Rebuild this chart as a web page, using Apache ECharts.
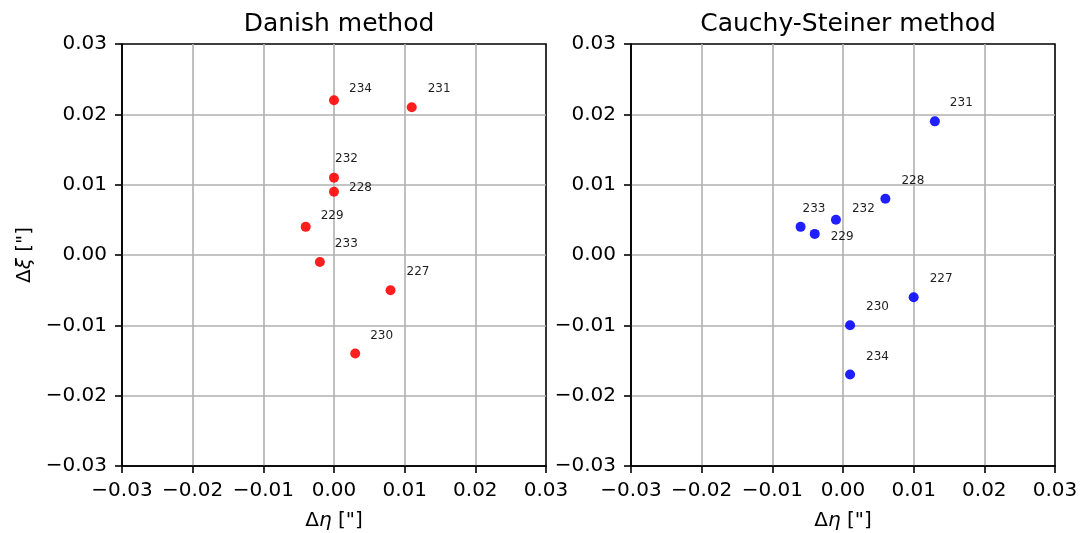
<!DOCTYPE html>
<html>
<head>
<meta charset="utf-8">
<script src="https://cdn.jsdelivr.net/npm/echarts@6/dist/echarts.min.js"></script>
<style>
html,body{margin:0;padding:0;background:#fff;}
#main{width:1081px;height:533px;}
</style>
</head>
<body>
<div id="main"></div>
<script>
// point ids and offsets (d eta, d xi) in arcsec
var danishIds=['234','231','232','228','229','233','227','230'];
var danishEta=[0.000,0.011,0.000,0.000,-0.004,-0.002,0.008,0.003];
var danishXi=[0.022,0.021,0.011,0.009,0.004,-0.001,-0.005,-0.014];

var cauchyIds=['231','228','232','233','229','227','230','234'];
var cauchyEta=[0.013,0.006,-0.001,-0.006,-0.004,0.010,0.001,0.001];
var cauchyXi=[0.019,0.008,0.005,0.004,0.003,-0.006,-0.010,-0.017];

var tickValues=[-0.03,-0.02,-0.01,0.00,0.01,0.02,0.03];

// label placement (pixels from the marker), like the annotate offsets
var danishLabelPos=[[15,-11],[16,-18],[1,-19],[15,-4],[15,-11],[15,-18],[16,-18],[15,-18]];
var cauchyLabelPos=[[15,-18],[16,-18],[16,-11],[2,-18],[16,3],[16,-18],[16,-18],[16,-18]];

var FONT='DejaVu Sans';
var R=5;

function fmt(v){
	var s=Math.abs(v).toFixed(2);
	if(v<-1e-9) return '\u2212'+s;
	return s;
}
function buildData(ids,xs,ys,pos){
	var out=[];
	for(var i=0;i<ids.length;i++){
		out.push({
			name:ids[i],
			value:[xs[i],ys[i]],
			label:{offset:[pos[i][0]-R,pos[i][1]]}
		});
	}
	return out;
}
function xAxisOf(idx){
	return {
		gridIndex:idx,type:'value',min:tickValues[0],max:tickValues[tickValues.length-1],interval:0.01,
		name:'Δ{i|η} ["]',nameLocation:'middle',nameGap:45,
		nameTextStyle:{color:'#000',fontSize:20,fontFamily:FONT,
			rich:{i:{fontStyle:'italic',fontSize:20,fontFamily:FONT,color:'#000'}}},
		axisLine:{show:true,onZero:false,lineStyle:{color:'#000',width:1.6}},
		axisTick:{show:true,length:7,inside:false,lineStyle:{color:'#000',width:1.6}},
		axisLabel:{color:'#000',fontSize:20,fontFamily:FONT,margin:15,formatter:fmt},
		splitLine:{show:true,showMinLine:false,showMaxLine:false,lineStyle:{color:'#b0b0b0',width:1.6}}
	};
}
function yAxisOf(idx,withName){
	var a={
		gridIndex:idx,type:'value',min:tickValues[0],max:tickValues[tickValues.length-1],interval:0.01,
		axisLine:{show:true,onZero:false,lineStyle:{color:'#000',width:1.6}},
		axisTick:{show:true,length:7,inside:false,lineStyle:{color:'#000',width:1.6}},
		axisLabel:{color:'#000',fontSize:20,fontFamily:FONT,margin:15,formatter:fmt},
		splitLine:{show:true,showMinLine:false,showMaxLine:false,lineStyle:{color:'#b0b0b0',width:1.6}}
	};
	if(withName){
		a.name='Δ{i|ξ} ["]';
		a.nameLocation='middle';
		a.nameGap=87;
		a.nameTextStyle={color:'#000',fontSize:20,fontFamily:FONT,
			rich:{i:{fontStyle:'italic',fontSize:20,fontFamily:FONT,color:'#000'}}};
	}
	return a;
}
function scatterOf(idx,data,color){
	return {
		type:'scatter',xAxisIndex:idx,yAxisIndex:idx,
		symbolSize:R*2,
		itemStyle:{color:color,opacity:0.88},
		label:{show:true,position:'right',distance:0,formatter:'{b}',
			color:'#000',fontSize:12,fontFamily:FONT},
		emphasis:{disabled:true},
		data:data
	};
}

var myChart=echarts.init(document.getElementById('main'));
var option={
	backgroundColor:'#fff',
	animation:false,
	title:[
		{text:'Danish method',left:334,top:7,textAlign:'center',
			textStyle:{color:'#000',fontSize:25,fontWeight:'normal',fontFamily:FONT}},
		{text:'Cauchy-Steiner method',left:843,top:7,textAlign:'center',
			textStyle:{color:'#000',fontSize:25,fontWeight:'normal',fontFamily:FONT}}
	],
	grid:[
		{left:122,top:44,width:424,height:422,outerBoundsMode:'none',containLabel:false,
			show:true,borderColor:'#000',borderWidth:1.6,backgroundColor:'transparent'},
		{left:631,top:44,width:424,height:422,outerBoundsMode:'none',containLabel:false,
			show:true,borderColor:'#000',borderWidth:1.6,backgroundColor:'transparent'}
	],
	xAxis:[xAxisOf(0),xAxisOf(1)],
	yAxis:[yAxisOf(0,true),yAxisOf(1,false)],
	series:[
		scatterOf(0,buildData(danishIds,danishEta,danishXi,danishLabelPos),'#ff0000'),
		scatterOf(1,buildData(cauchyIds,cauchyEta,cauchyXi,cauchyLabelPos),'#0000ff')
	]
};
myChart.setOption(option);
</script>
</body>
</html>
